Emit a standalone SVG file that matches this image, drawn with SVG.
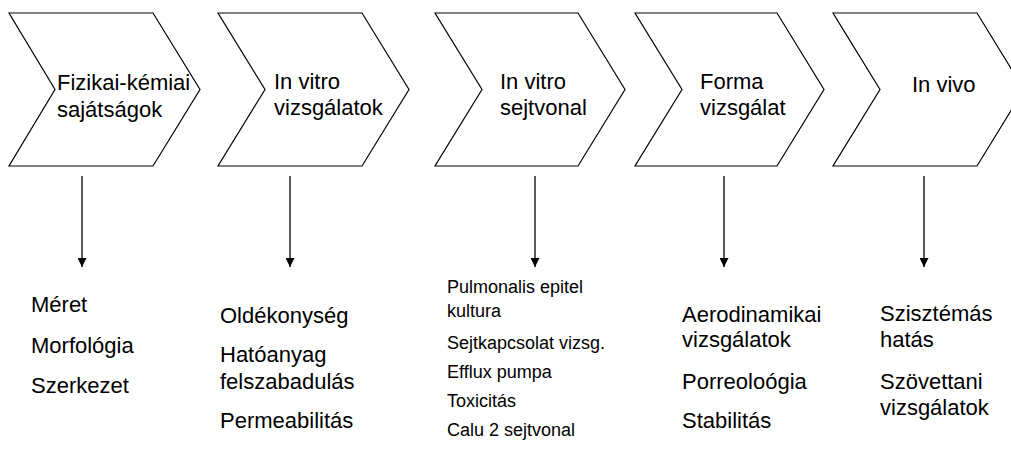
<svg xmlns="http://www.w3.org/2000/svg" width="1011" height="466" viewBox="0 0 1011 466">
<style>
.chev{fill:#fff;stroke:#000;stroke-width:1.2;stroke-linejoin:miter}
.t{font-family:"Liberation Sans",Arial,sans-serif;font-size:22px;fill:#000}
.s{font-family:"Liberation Sans",Arial,sans-serif;font-size:18px;fill:#000}
.ln{stroke:#000;stroke-width:1.3;fill:none}
</style>
<defs>
<marker id="ah" viewBox="0 0 10 10" refX="10" refY="5" markerWidth="9" markerHeight="9" markerUnits="userSpaceOnUse" orient="auto">
<path d="M0,0 L10,5 L0,10 Z" fill="#000"/>
</marker>
</defs>
<rect width="1011" height="466" fill="#fff"/>
<g id="n1">
<polygon class="chev" points="9,13 153,13 200,89.5 153,166 9,166 55,89.5"/>
<text class="t" x="57" y="90">Fizikai-kémiai</text>
<text class="t" x="57" y="116.5">sajátságok</text>
</g>
<g id="n2">
<polygon class="chev" points="218,13 362,13 409,89.5 362,166 218,166 265,89.5"/>
<text class="t" x="274" y="89">In vitro</text>
<text class="t" x="274" y="115">vizsgálatok</text>
</g>
<g id="n3">
<polygon class="chev" points="435,13 578,13 625,89.5 578,166 435,166 482,89.5"/>
<text class="t" x="500" y="89">In vitro</text>
<text class="t" x="500" y="115">sejtvonal</text>
</g>
<g id="n4">
<polygon class="chev" points="635,13 777,13 824,89.5 777,166 635,166 682,89.5"/>
<text class="t" x="700" y="89">Forma</text>
<text class="t" x="700" y="115">vizsgálat</text>
</g>
<g id="n5">
<polygon class="chev" points="833,13 977,13 1024,89.5 977,166 833,166 880,89.5"/>
<text class="t" x="912" y="92">In vivo</text>
</g>
<g id="connectors">
<line class="ln" x1="82" y1="176" x2="82" y2="267" marker-end="url(#ah)"/>
<line class="ln" x1="290" y1="176" x2="290" y2="267" marker-end="url(#ah)"/>
<line class="ln" x1="535" y1="176" x2="535" y2="267" marker-end="url(#ah)"/>
<line class="ln" x1="724" y1="176" x2="724" y2="267" marker-end="url(#ah)"/>
<line class="ln" x1="924" y1="176" x2="924" y2="267" marker-end="url(#ah)"/>
</g>
<g id="list1">
<text class="t" x="31" y="312">Méret</text>
<text class="t" x="31" y="353">Morfológia</text>
<text class="t" x="31" y="393">Szerkezet</text>
</g>
<g id="list2">
<text class="t" x="220" y="323">Oldékonység</text>
<text class="t" x="220" y="362">Hatóanyag</text>
<text class="t" x="220" y="388.5">felszabadulás</text>
<text class="t" x="220" y="428">Permeabilitás</text>
</g>
<g id="list3">
<text class="s" x="447" y="293">Pulmonalis epitel</text>
<text class="s" x="447" y="317">kultura</text>
<text class="s" x="447" y="349">Sejtkapcsolat vizsg.</text>
<text class="s" x="447" y="378">Efflux pumpa</text>
<text class="s" x="447" y="407">Toxicitás</text>
<text class="s" x="447" y="436">Calu 2 sejtvonal</text>
</g>
<g id="list4">
<text class="t" x="682" y="322">Aerodinamikai</text>
<text class="t" x="682" y="347">vizsgálatok</text>
<text class="t" x="682" y="389">Porreoloógia</text>
<text class="t" x="682" y="428">Stabilitás</text>
</g>
<g id="list5">
<text class="t" x="880" y="321">Szisztémás</text>
<text class="t" x="880" y="347">hatás</text>
<text class="t" x="880" y="389">Szövettani</text>
<text class="t" x="880" y="415">vizsgálatok</text>
</g>
</svg>
